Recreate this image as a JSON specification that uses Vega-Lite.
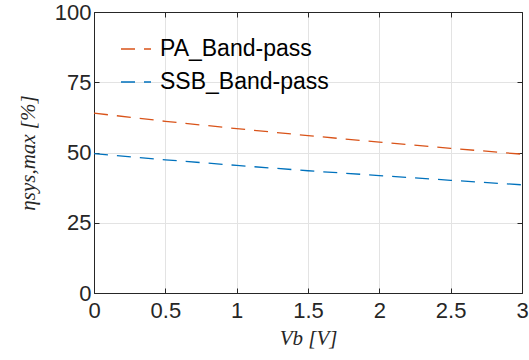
{
  "$schema": "https://vega.github.io/schema/vega-lite/v6.json",
  "autosize": "none",
  "width": 428,
  "height": 281,
  "padding": {"left": 94, "top": 12, "right": 7, "bottom": 67},
  "background": "white",
  "config": {
    "view": {"stroke": "#262626", "strokeWidth": 1},
    "font": "Liberation Sans",
    "axis": {
      "domainColor": "#262626",
      "tickColor": "#262626",
      "tickSize": -5,
      "labelColor": "#262626",
      "labelFont": "Liberation Sans",
      "labelFontSize": 22,
      "gridColor": "#e3e3e3",
      "gridWidth": 1,
      "titleFont": "Liberation Serif",
      "titleFontStyle": "italic",
      "titleFontWeight": "normal",
      "titleFontSize": 21,
      "titleColor": "#262626"
    },
    "legend": {
      "labelFont": "Liberation Sans",
      "labelFontSize": 23,
      "labelColor": "#000000",
      "labelLimit": 0,
      "symbolType": "stroke",
      "symbolSize": 900,
      "symbolStrokeWidth": 1.3,
      "symbolDash": [14, 9],
      "rowPadding": 5,
      "labelOffset": 8
    }
  },
  "data": {
    "values": [
      {"V": 0, "eta": 64.0, "series": "PA_Band-pass"},
      {"V": 0.5, "eta": 61.1, "series": "PA_Band-pass"},
      {"V": 1, "eta": 58.5, "series": "PA_Band-pass"},
      {"V": 1.5, "eta": 56.0, "series": "PA_Band-pass"},
      {"V": 2, "eta": 53.7, "series": "PA_Band-pass"},
      {"V": 2.5, "eta": 51.5, "series": "PA_Band-pass"},
      {"V": 3, "eta": 49.4, "series": "PA_Band-pass"},
      {"V": 0, "eta": 49.6, "series": "SSB_Band-pass"},
      {"V": 0.5, "eta": 47.4, "series": "SSB_Band-pass"},
      {"V": 1, "eta": 45.4, "series": "SSB_Band-pass"},
      {"V": 1.5, "eta": 43.5, "series": "SSB_Band-pass"},
      {"V": 2, "eta": 41.8, "series": "SSB_Band-pass"},
      {"V": 2.5, "eta": 40.1, "series": "SSB_Band-pass"},
      {"V": 3, "eta": 38.5, "series": "SSB_Band-pass"}
    ]
  },
  "layer": [
    {
      "mark": {"type": "line", "strokeWidth": 1.3, "strokeDash": [14, 9]},
      "encoding": {
        "x": {
          "field": "V", "type": "quantitative",
          "scale": {"domain": [0, 3], "nice": false, "zero": false},
          "axis": {"values": [0, 0.5, 1, 1.5, 2, 2.5, 3], "title": "Vb [V]", "labelPadding": 12, "titlePadding": 6, "labelFlush": false, "format": "~g"}
        },
        "y": {
          "field": "eta", "type": "quantitative",
          "scale": {"domain": [0, 100], "nice": false},
          "axis": {"values": [0, 25, 50, 75, 100], "title": "ηsys,max [%]", "labelPadding": 8, "titlePadding": 16, "labelFlush": false}
        },
        "color": {
          "field": "series", "type": "nominal",
          "scale": {"domain": ["PA_Band-pass", "SSB_Band-pass"], "range": ["#D95319", "#0072BD"]},
          "legend": {"title": null, "orient": "none", "legendX": 26, "legendY": 21}
        }
      }
    },
    {
      "mark": {"type": "line", "opacity": 0},
      "encoding": {
        "x": {"field": "V", "type": "quantitative", "axis": {"orient": "top", "values": [0, 0.5, 1, 1.5, 2, 2.5, 3], "labels": false, "grid": false, "title": null}},
        "y": {"field": "eta", "type": "quantitative", "axis": {"orient": "right", "values": [0, 25, 50, 75, 100], "labels": false, "grid": false, "title": null}}
      }
    }
  ],
  "resolve": {"axis": {"x": "independent", "y": "independent"}}
}
